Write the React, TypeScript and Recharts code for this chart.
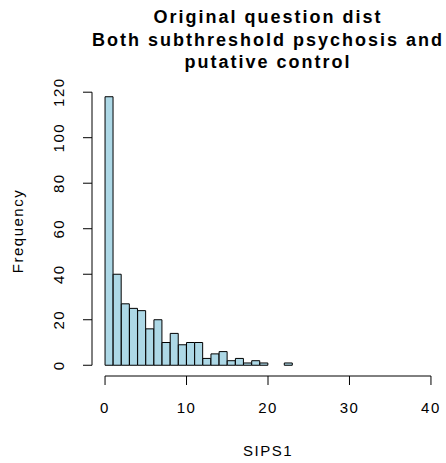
import React from "react";
import { BarChart, Bar, XAxis, YAxis, ReferenceLine } from "recharts";

// histogram of SIPS1, bins of width 1 (centres), counts
const binCenters = [0.5, 1.5, 2.5, 3.5, 4.5, 5.5, 6.5, 7.5, 8.5, 9.5, 10.5, 11.5, 12.5, 13.5, 14.5, 15.5, 16.5, 17.5, 18.5, 19.5, 20.5, 21.5, 22.5];
const frequencies = [118, 40, 27, 25, 24, 16, 20, 10, 14, 9, 10, 10, 3, 5, 6, 2, 3, 1, 2, 1, 0, 0, 1];
const xTicks = [0, 10, 20, 30, 40];
const yTicks = [0, 20, 40, 60, 80, 100, 120];
const titleLines = ["Original question dist", "Both subthreshold psychosis and", "putative control"];

const data = binCenters.map((x, i) => ({ sips1: x, count: frequencies[i] }));

// R pads the axis range by 4% on each side
const xDomain = [-1.6, 41.6];
const yDomain = [-4.72, 122.72];

const FONT = "'Liberation Sans', Arial, Helvetica, sans-serif";

function XTick(props: any) {
  const { x, y, payload } = props;
  return (
    <text x={x} y={y} dy={26} textAnchor="middle" fontFamily={FONT} fontSize={15} fill="#000" style={{ letterSpacing: 1.5 }}>
      {payload.value}
    </text>
  );
}

function YTick(props: any) {
  const { x, y, payload } = props;
  return (
    <g transform={`translate(${x - 17}, ${y}) rotate(-90)`}>
      <text x={0} y={0} textAnchor="middle" fontFamily={FONT} fontSize={15} fill="#000" style={{ letterSpacing: 1.5 }}>
        {payload.value}
      </text>
    </g>
  );
}

export default function App() {
  return (
    <div style={{ position: "absolute", left: 0, top: 0, width: 446, height: 463, background: "#fff" }}>
      <BarChart
        width={446}
        height={463}
        data={data}
        margin={{ top: 86, right: 2, bottom: 27, left: 32 }}
        barCategoryGap={0}
        barGap={0}
      >
        <XAxis
          dataKey="sips1"
          type="number"
          domain={xDomain}
          ticks={xTicks}
          interval={0}
          allowDataOverflow
          axisLine={false}
          tickLine={{ stroke: "#000", strokeWidth: 1 }}
          tickSize={9}
          tickMargin={2}
          height={60}
          tick={<XTick />}
        />
        <YAxis
          type="number"
          domain={yDomain}
          ticks={yTicks}
          interval={0}
          allowDataOverflow
          axisLine={false}
          tickLine={{ stroke: "#000", strokeWidth: 1 }}
          tickSize={9}
          tickMargin={2}
          width={60}
          tick={<YTick />}
        />
        <Bar dataKey="count" fill="#ADD8E6" stroke="#000" strokeWidth={1} isAnimationActive={false} />
        {/* detached R-style axis lines, only over the tick range */}
        <ReferenceLine segment={[{ x: 0, y: yDomain[0] }, { x: 40, y: yDomain[0] }]} stroke="#000" strokeWidth={1} ifOverflow="visible" />
        <ReferenceLine segment={[{ x: xDomain[0], y: 0 }, { x: xDomain[0], y: 120 }]} stroke="#000" strokeWidth={1} ifOverflow="visible" />
      </BarChart>
      <svg width={446} height={463} style={{ position: "absolute", left: 0, top: 0, pointerEvents: "none" }}>
        {titleLines.map((line, i) => (
          <text
            key={line}
            x={268}
            y={23 + i * 22.5}
            textAnchor="middle"
            fontFamily={FONT}
            fontWeight="bold"
            fontSize={18}
            fill="#000"
            style={{ letterSpacing: 2 }}
          >
            {line}
          </text>
        ))}
        <text x={268} y={456} textAnchor="middle" fontFamily={FONT} fontSize={15} fill="#000" style={{ letterSpacing: 1.5 }}>
          SIPS1
        </text>
        <g transform="translate(23, 231) rotate(-90)">
          <text x={0} y={0} textAnchor="middle" fontFamily={FONT} fontSize={15} fill="#000" style={{ letterSpacing: 1.5 }}>
            Frequency
          </text>
        </g>
      </svg>
    </div>
  );
}
